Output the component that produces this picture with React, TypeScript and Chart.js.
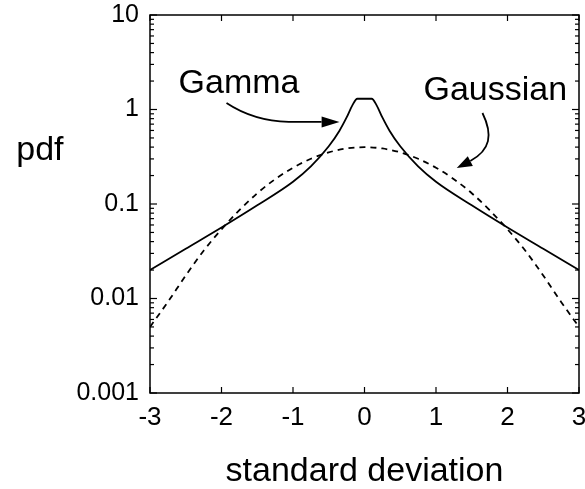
import React, { useEffect, useRef } from 'react';
import { Chart, registerables } from 'chart.js';

Chart.register(...registerables);

// ---- data ----
const gammaX = [-3, -2.5, -2, -1.5, -1, -0.75, -0.5, -0.35, -0.25, -0.17, -0.1, 0.1, 0.17, 0.25, 0.35, 0.5, 0.75, 1, 1.5, 2, 2.5, 3];
const gammaY = [0.020, 0.0336, 0.0564, 0.0968, 0.172, 0.250, 0.408, 0.597, 0.824, 1.107, 1.3, 1.3, 1.107, 0.824, 0.597, 0.408, 0.250, 0.172, 0.0968, 0.0564, 0.0336, 0.020];

const gaussX = [-3, -2.75, -2.5, -2.25, -2, -1.75, -1.5, -1.25, -1, -0.75, -0.5, -0.25, 0, 0.25, 0.5, 0.75, 1, 1.25, 1.5, 1.75, 2, 2.25, 2.5, 2.75, 3];
const gaussY = [0.005, 0.0092, 0.0175, 0.032, 0.054, 0.086, 0.13, 0.183, 0.242, 0.301, 0.352, 0.387, 0.399, 0.387, 0.352, 0.301, 0.242, 0.183, 0.13, 0.086, 0.054, 0.032, 0.0175, 0.0092, 0.005];

const xTickValues = [-3, -2, -1, 0, 1, 2, 3];
const xTickLabels = ['-3', '-2', '-1', '0', '1', '2', '3'];
const yTickValues = [0.001, 0.01, 0.1, 1, 10];
const yTickLabels = ['0.001', '0.01', '0.1', '1', '10'];
const yMinorMultipliers = [2, 3, 4, 5, 6, 7, 8, 9];

const xTitle = 'standard deviation';
const yTitle = 'pdf';
const gammaLabel = 'Gamma';
const gaussLabel = 'Gaussian';

// annotation anchors in data coordinates
const gammaTextPos = [-2.6, 1.5];
const gaussTextPos = [0.825, 1.26];
const yTitlePos = [-4.87, 0.292];
const gammaArrow = [[-1.93, 1.17], [-1.55, 0.755], [-1.06, 0.738], [-0.6, 0.738], [-0.35, 0.738]];
const gaussArrow = [[1.65, 0.918], [1.8, 0.537], [1.76, 0.372], [1.48, 0.285], [1.29, 0.24]];

const FONT = '"Liberation Sans", Arial, Helvetica, sans-serif';

const isPow10 = (v: number) => Math.abs(Math.log10(v) - Math.round(Math.log10(v))) < 1e-9;

const decorPlugin = {
  id: 'decor',
  afterDraw(chart: any) {
    const { ctx, chartArea: a, scales } = chart;
    const xs = scales.x, ys = scales.y;
    const P = (p: number[]) => [xs.getPixelForValue(p[0]), ys.getPixelForValue(p[1])];
    ctx.save();
    ctx.strokeStyle = '#000';
    ctx.fillStyle = '#000';
    ctx.lineWidth = 1.5;
    ctx.strokeRect(a.left, a.top, a.right - a.left, a.bottom - a.top);

    const seg = (x1: number, y1: number, x2: number, y2: number) => {
      ctx.beginPath(); ctx.moveTo(x1, y1); ctx.lineTo(x2, y2); ctx.stroke();
    };
    ctx.lineWidth = 1.2;
    ys.ticks.forEach((t: any) => {
      const py = ys.getPixelForValue(t.value);
      const len = isPow10(t.value) ? 7 : 4;
      seg(a.left, py, a.left + len, py);
      seg(a.right, py, a.right - len, py);
    });
    xs.ticks.forEach((t: any) => {
      const px = xs.getPixelForValue(t.value);
      seg(px, a.bottom, px, a.bottom - 6);
      seg(px, a.top, px, a.top + 6);
    });

    // texts
    ctx.font = `34px ${FONT}`;
    ctx.textAlign = 'left';
    ctx.textBaseline = 'alphabetic';
    let p = P(yTitlePos);
    ctx.fillText(yTitle, p[0], p[1]);
    p = P(gammaTextPos);
    ctx.fillText(gammaLabel, p[0], p[1]);
    p = P(gaussTextPos);
    ctx.fillText(gaussLabel, p[0], p[1]);

    const head = (from: number[], tip: number[], half: number) => {
      const dx = tip[0] - from[0], dy = tip[1] - from[1];
      const L = Math.hypot(dx, dy);
      const ux = dx / L, uy = dy / L;
      ctx.beginPath();
      ctx.moveTo(tip[0], tip[1]);
      ctx.lineTo(from[0] - uy * half, from[1] + ux * half);
      ctx.lineTo(from[0] + uy * half, from[1] - ux * half);
      ctx.closePath();
      ctx.fill();
    };

    ctx.lineWidth = 1.8;
    // gamma arrow
    const g = gammaArrow.map(P);
    ctx.beginPath();
    ctx.moveTo(g[0][0], g[0][1]);
    ctx.quadraticCurveTo(g[1][0], g[1][1], g[2][0], g[2][1]);
    ctx.lineTo(g[3][0], g[3][1]);
    ctx.stroke();
    head(g[3], g[4], 5.5);

    // gaussian arrow
    const q = gaussArrow.map(P);
    ctx.beginPath();
    ctx.moveTo(q[0][0], q[0][1]);
    ctx.bezierCurveTo(q[1][0], q[1][1], q[2][0], q[2][1], q[3][0], q[3][1]);
    ctx.stroke();
    head(q[3], q[4], 5.5);

    ctx.restore();
  },
};

export default function App() {
  const ref = useRef<HTMLCanvasElement | null>(null);
  useEffect(() => {
    if (!ref.current) return;
    const chart = new Chart(ref.current, {
      type: 'line',
      data: {
        datasets: [
          {
            label: gammaLabel,
            data: gammaX.map((x, i) => ({ x, y: gammaY[i] })),
            borderColor: '#000',
            borderWidth: 1.8,
            pointRadius: 0,
            cubicInterpolationMode: 'monotone',
            fill: false,
          },
          {
            label: gaussLabel,
            data: gaussX.map((x, i) => ({ x, y: gaussY[i] })),
            borderColor: '#000',
            borderWidth: 1.8,
            borderDash: [6, 5],
            pointRadius: 0,
            cubicInterpolationMode: 'monotone',
            fill: false,
          },
        ],
      },
      options: {
        responsive: false,
        animation: false,
        events: [],
        layout: { padding: { top: 15, right: 6, left: 0, bottom: 0 } },
        plugins: { legend: { display: false }, tooltip: { enabled: false } },
        scales: {
          x: {
            type: 'linear',
            min: -3,
            max: 3,
            grid: { display: false, drawTicks: false },
            border: { display: false },
            afterBuildTicks: (s: any) => { s.ticks = xTickValues.map((v) => ({ value: v })); },
            afterFit: (s: any) => { s.height = 96; s.paddingLeft = 0; s.paddingRight = 0; },
            ticks: {
              autoSkip: false,
              maxRotation: 0,
              padding: 9,
              color: '#000',
              font: { family: FONT, size: 26 },
              callback: (v: any) => {
                const i = xTickValues.indexOf(Number(v));
                return i >= 0 ? xTickLabels[i] : '';
              },
            },
            title: {
              display: true,
              text: xTitle,
              color: '#000',
              font: { family: FONT, size: 34, lineHeight: 1 },
              padding: { top: 0, bottom: 0 },
            },
          },
          y: {
            type: 'logarithmic',
            min: 0.001,
            max: 10,
            grid: { display: false, drawTicks: false },
            border: { display: false },
            afterBuildTicks: (s: any) => {
              const t: any[] = [];
              yTickValues.forEach((d, i) => {
                t.push({ value: d });
                if (i < yTickValues.length - 1) yMinorMultipliers.forEach((m) => t.push({ value: d * m }));
              });
              s.ticks = t;
            },
            afterFit: (s: any) => { s.width = 150; s.paddingTop = 0; s.paddingBottom = 0; },
            ticks: {
              autoSkip: false,
              padding: 11,
              color: '#000',
              font: { family: FONT, size: 25 },
              callback: (v: any) => {
                const n = Number(v);
                if (!isPow10(n)) return '';
                const i = yTickValues.findIndex((t) => Math.abs(Math.log10(t) - Math.log10(n)) < 1e-9);
                return i >= 0 ? yTickLabels[i] : '';
              },
            },
          },
        },
      },
      plugins: [decorPlugin],
    } as any);
    return () => chart.destroy();
  }, []);
  return (
    <div style={{ position: 'absolute', left: 0, top: 0, width: 585, height: 489, background: '#fff' }}>
      <canvas ref={ref} width={585} height={489} />
    </div>
  );
}
